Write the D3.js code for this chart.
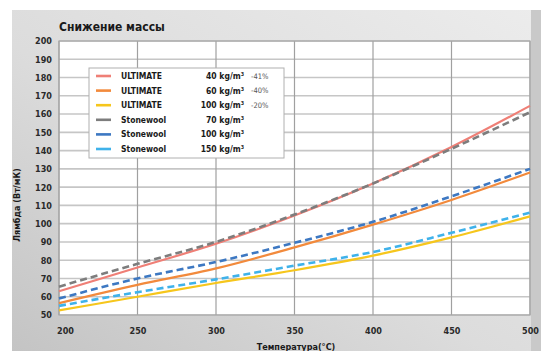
<!DOCTYPE html>
<html>
<head>
<meta charset="utf-8">
<script src="https://cdn.jsdelivr.net/npm/d3@7"></script>
<style>
  body { margin: 0; background: #fff; }
  svg text { font-family: "DejaVu Sans Condensed", "DejaVu Sans", sans-serif; }
</style>
</head>
<body>
<div id="chart"></div>
<script>
// chart values
const temps = [200, 250, 300, 350, 400, 450, 500];
const yTicks = [50, 60, 70, 80, 90, 100, 110, 120, 130, 140, 150, 160, 170, 180, 190, 200];
const xTicks = [200, 250, 300, 350, 400, 450, 500];

const ultimate40 = [63, 76, 89, 104.5, 122, 142, 164.5];
const ultimate60 = [56.5, 66.5, 75.5, 87, 99.5, 113, 128];
const ultimate100 = [52.5, 60, 67.5, 74.5, 82.5, 92.5, 104];
const stonewool70 = [65.5, 78, 90, 105, 122, 141, 161];
const stonewool100 = [59, 70, 79, 89.5, 101, 115, 130];
const stonewool150 = [55, 62.5, 69.5, 77, 84.5, 95, 106];

const seriesNames = ['ULTIMATE', 'ULTIMATE', 'ULTIMATE', 'Stonewool', 'Stonewool', 'Stonewool'];
const densities = ['40 kg/m³', '60 kg/m³', '100 kg/m³', '70 kg/m³', '100 kg/m³', '150 kg/m³'];
const reductions = ['-41%', '-40%', '-20%', '', '', ''];

const title = 'Снижение массы';
const yTitle = 'Лямбда (Вт/мК)';
const xTitle = 'Температура(°C)';

const series = [
    { values: ultimate40, color: '#ef7f76', dashed: false },
    { values: ultimate60, color: '#f28a3c', dashed: false },
    { values: ultimate100, color: '#f6c61c', dashed: false },
    { values: stonewool70, color: '#7d7d7d', dashed: true },
    { values: stonewool100, color: '#3d78c2', dashed: true },
    { values: stonewool150, color: '#3fb2ea', dashed: true }
];

const width = 541, height = 351;
const plot = { left: 59, right: 530, top: 41, bottom: 315 };

const svg = d3.select('#chart')
    .append('svg')
    .attr('width', width)
    .attr('height', height);

const defs = svg.append('defs');
const grad = defs.append('linearGradient')
    .attr('id', 'bg')
    .attr('x1', '100%').attr('y1', '0%')
    .attr('x2', '0%').attr('y2', '100%');
grad.append('stop').attr('offset', '0%').attr('stop-color', '#ececec');
grad.append('stop').attr('offset', '55%').attr('stop-color', '#dcdcdc');
grad.append('stop').attr('offset', '100%').attr('stop-color', '#c4c4c4');

svg.append('rect')
    .attr('x', 12).attr('y', 10)
    .attr('width', width - 12).attr('height', height - 10)
    .style('fill', 'url(#bg)');
// darker strip on the right edge
svg.append('rect')
    .attr('x', plot.right + 1).attr('y', 10)
    .attr('width', width - plot.right).attr('height', height - 10)
    .style('fill', '#c9c9c9');

const x = d3.scaleLinear().domain([200, 500]).range([plot.left, plot.right]);
const y = d3.scaleLinear().domain([50, 200]).range([plot.bottom, plot.top]);

svg.append('rect')
    .attr('x', plot.left).attr('y', plot.top)
    .attr('width', plot.right - plot.left).attr('height', plot.bottom - plot.top)
    .style('fill', '#fff');

// horizontal grid
svg.append('g')
    .selectAll('line')
    .data(yTicks)
    .enter()
    .append('line')
    .attr('x1', plot.left).attr('x2', plot.right)
    .attr('y1', d => y(d)).attr('y2', d => y(d))
    .style('stroke', '#c6c6c6')
    .style('stroke-width', 1.6);

// vertical grid
svg.append('g')
    .selectAll('line')
    .data(xTicks)
    .enter()
    .append('line')
    .attr('x1', d => x(d)).attr('x2', d => x(d))
    .attr('y1', plot.top).attr('y2', plot.bottom)
    .style('stroke', '#a0a0a0')
    .style('stroke-width', 1.2);

svg.append('rect')
    .attr('x', plot.left).attr('y', plot.top)
    .attr('width', plot.right - plot.left).attr('height', plot.bottom - plot.top)
    .style('fill', 'none')
    .style('stroke', '#a8a8a8')
    .style('stroke-width', 1.2);

// axes (text only)
const yAxis = svg.append('g')
    .attr('transform', `translate(${plot.left},0)`)
    .call(d3.axisLeft(y).tickValues(yTicks).tickSize(0).tickPadding(7));
const xAxis = svg.append('g')
    .attr('transform', `translate(0,${plot.bottom})`)
    .call(d3.axisBottom(x).tickValues(xTicks).tickSize(0).tickPadding(13));
[yAxis, xAxis].forEach(a => {
    a.select('.domain').remove();
    a.selectAll('text')
        .style('font-size', '9px')
        .style('font-weight', 'bold')
        .style('fill', '#2a2a2a');
});
xAxis.selectAll('text').filter(d => d === 200).attr('dx', 6);

// series
const line = d3.line()
    .x((d, i) => x(temps[i]))
    .y(d => y(d))
    .curve(d3.curveMonotoneX);

svg.append('g')
    .selectAll('path')
    .data(series)
    .enter()
    .append('path')
    .attr('d', d => line(d.values))
    .style('fill', 'none')
    .style('stroke', d => d.color)
    .style('stroke-width', d => d.dashed ? 2.6 : 2.2)
    .style('stroke-dasharray', d => d.dashed ? '7,4' : null);

// legend
const legend = svg.append('g').attr('transform', 'translate(89,68)');
legend.append('rect')
    .attr('width', 195).attr('height', 90)
    .style('fill', '#fff')
    .style('stroke', '#b0b0b0')
    .style('stroke-width', 1);
const rows = legend.selectAll('.row')
    .data(series)
    .enter()
    .append('g')
    .classed('row', true)
    .attr('transform', (d, i) => `translate(0,${8 + i * 14.6})`);
rows.append('line')
    .attr('x1', 7).attr('x2', 22)
    .style('stroke', d => d.color)
    .style('stroke-width', 2.6);
rows.append('text')
    .attr('x', 32).attr('dy', '0.35em')
    .style('font-size', '8.5px')
    .style('font-weight', 'bold')
    .style('fill', '#1a1a1a')
    .text((d, i) => seriesNames[i]);
rows.append('text')
    .attr('x', 155).attr('dy', '0.35em')
    .attr('text-anchor', 'end')
    .style('font-size', '8.5px')
    .style('font-weight', 'bold')
    .style('fill', '#1a1a1a')
    .text((d, i) => densities[i]);
rows.append('text')
    .attr('x', 162).attr('dy', '0.35em')
    .style('font-size', '7.5px')
    .style('fill', '#555')
    .text((d, i) => reductions[i]);

// titles
svg.append('text')
    .attr('x', 59).attr('y', 31)
    .style('font-size', '12px')
    .style('font-weight', 'bold')
    .style('fill', '#1a1a1a')
    .text(title);

svg.append('text')
    .attr('transform', 'translate(20,205) rotate(-90)')
    .attr('text-anchor', 'middle')
    .style('font-size', '9px')
    .style('font-weight', 'bold')
    .style('fill', '#1a1a1a')
    .text(yTitle);

svg.append('text')
    .attr('x', 296).attr('y', 350)
    .attr('text-anchor', 'middle')
    .style('font-size', '9px')
    .style('font-weight', 'bold')
    .style('fill', '#1a1a1a')
    .text(xTitle);
</script>
</body>
</html>
